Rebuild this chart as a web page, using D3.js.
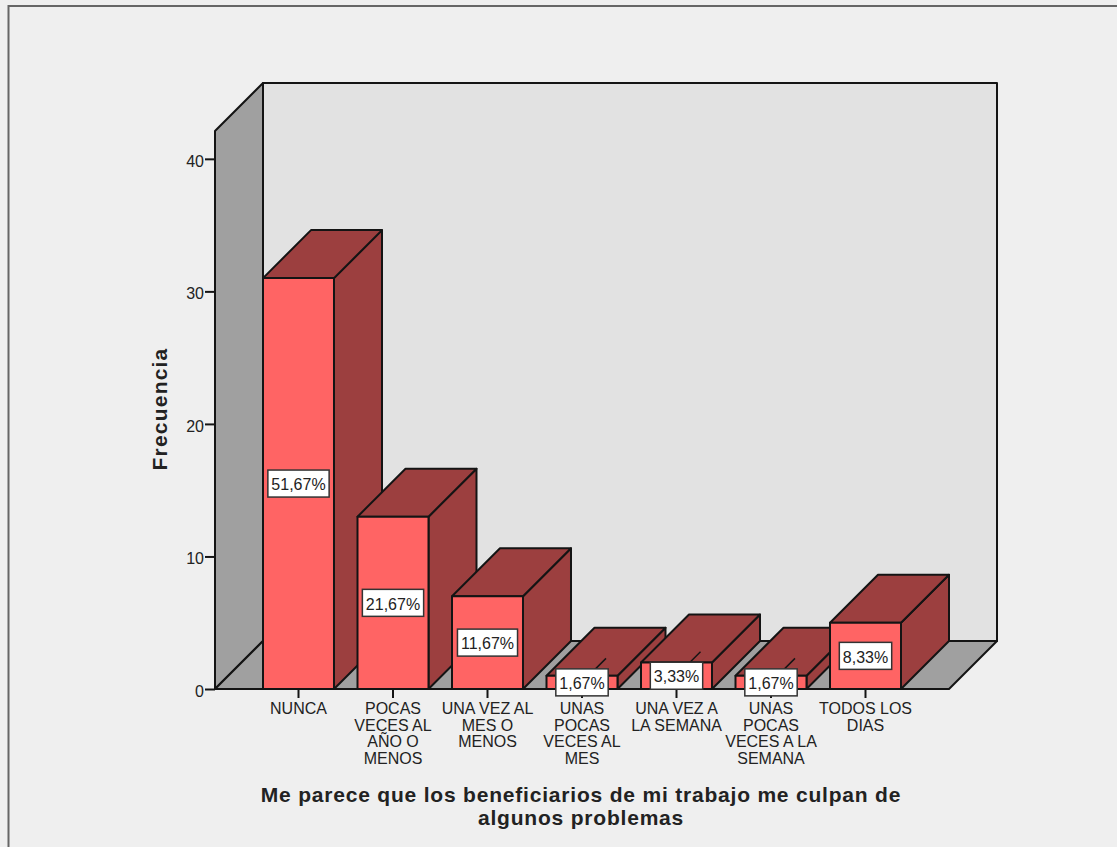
<!DOCTYPE html>
<html>
<head>
<meta charset="utf-8">
<script src="https://cdn.jsdelivr.net/npm/d3@7/dist/d3.min.js"></script>
<style>
  html, body { margin: 0; padding: 0; background: #efefef; overflow: hidden; }
  svg { display: block; }
  text { font-family: "Liberation Sans", Arial, sans-serif; fill: #222; }
</style>
</head>
<body>
<svg id="chart" width="1117" height="847"></svg>
<script>
// Response counts per category (n = 60)
const categories = [
  "NUNCA",
  "POCAS VECES AL AÑO O MENOS",
  "UNA VEZ AL MES O MENOS",
  "UNAS POCAS VECES AL MES",
  "UNA VEZ A LA SEMANA",
  "UNAS POCAS VECES A LA SEMANA",
  "TODOS LOS DIAS"
];
const categoryLines = [
  ["NUNCA"],
  ["POCAS", "VECES AL", "AÑO O", "MENOS"],
  ["UNA VEZ AL", "MES O", "MENOS"],
  ["UNAS", "POCAS", "VECES AL", "MES"],
  ["UNA VEZ A", "LA SEMANA"],
  ["UNAS", "POCAS", "VECES A LA", "SEMANA"],
  ["TODOS LOS", "DIAS"]
];
const frequencies = [31, 13, 7, 1, 2, 1, 5];
const yTicks = [0, 10, 20, 30, 40];
const yTitle = "Frecuencia";
const xTitleLines = [
  "Me parece que los beneficiarios de mi trabajo me culpan de",
  "algunos problemas"
];

const total = d3.sum(frequencies);
const percentLabel = v => (v / total * 100).toFixed(2).replace(".", ",") + "%";

const INK = "#141414";
const depth = 48;                 // oblique offset of the 3D box, in px
const baseY = 689, wallTopY = 131;
const wallX = 215, floorRight = 949;

const svg = d3.select("#chart");

const x = d3.scaleBand().domain(categories).range([263, 901]).paddingInner(0.2487);
const y = d3.scaleLinear().domain([0, 42.1]).range([baseY, wallTopY]);

const pts = a => a.map(p => p.join(",")).join(" ");
const poly = (g, points, fill) => g.append("polygon")
  .attr("points", pts(points))
  .attr("fill", fill)
  .attr("stroke", INK)
  .attr("stroke-width", 2)
  .attr("stroke-linejoin", "round");

// Outer frame of the chart window
svg.append("path").attr("d", "M8.5,847V6H1117")
  .attr("fill", "none").attr("stroke", "#666").attr("stroke-width", 2);

// Back wall, left wall and floor of the 3D box
const box = svg.append("g");
poly(box, [[wallX + depth, wallTopY - depth], [floorRight + depth, wallTopY - depth],
           [floorRight + depth, baseY - depth], [wallX + depth, baseY - depth]], "#e2e2e2");
poly(box, [[wallX, wallTopY], [wallX + depth, wallTopY - depth],
           [wallX + depth, baseY - depth], [wallX, baseY]], "#a0a0a0");
poly(box, [[wallX, baseY], [wallX + depth, baseY - depth],
           [floorRight + depth, baseY - depth], [floorRight, baseY]], "#a0a0a0");

// Bars, left to right so that each box overlaps the previous one
const bars = svg.append("g");
frequencies.forEach((v, i) => {
  const g = bars.append("g");
  const x0 = x(categories[i]), x1 = x0 + x.bandwidth();
  const yTop = y(v), yMid = (y(v) + y(0)) / 2;
  poly(g, [[x1, yTop], [x1 + depth, yTop - depth], [x1 + depth, baseY - depth], [x1, baseY]], "#9c3f3f");
  poly(g, [[x0, yTop], [x0 + depth, yTop - depth], [x1 + depth, yTop - depth], [x1, yTop]], "#9c3f3f");
  // Leader from the front face to the middle of the box; the front face hides its lower part
  const cx = (x0 + x1) / 2;
  g.append("line").attr("x1", cx).attr("y1", yMid)
    .attr("x2", cx + depth / 2).attr("y2", yMid - depth / 2)
    .attr("stroke", INK).attr("stroke-width", 1.5);
  poly(g, [[x0, yTop], [x1, yTop], [x1, baseY], [x0, baseY]], "#ff6464");
});

// Baseline along the front of the floor
svg.append("line").attr("x1", wallX).attr("x2", floorRight)
  .attr("y1", baseY).attr("y2", baseY).attr("stroke", INK).attr("stroke-width", 2);

// Value axis on the front edge of the left wall
const yAxis = svg.append("g").attr("transform", `translate(${wallX},0)`)
  .call(d3.axisLeft(y).tickValues(yTicks).tickFormat(d3.format("d")).tickSize(10).tickPadding(1));
yAxis.select(".domain").remove();
yAxis.selectAll("line").attr("stroke", INK).attr("stroke-width", 2);
yAxis.selectAll("text").style("font-size", "16px").attr("fill", "#222").attr("dy", "0.46em");

// Category axis with wrapped labels
const xAxis = svg.append("g").attr("transform", `translate(0,${baseY})`)
  .call(d3.axisBottom(x).tickSize(9).tickPadding(0));
xAxis.select(".domain").remove();
xAxis.selectAll("line").attr("stroke", INK).attr("stroke-width", 2);
xAxis.selectAll("text").each(function (d) {
  const t = d3.select(this).text(null).attr("y", 0).attr("dy", null)
    .style("font-size", "16px").attr("fill", "#222");
  categoryLines[categories.indexOf(d)].forEach((line, j) => {
    t.append("tspan").attr("x", 0).attr("y", 25 + j * 16.6).text(line);
  });
});

// Percentage labels at the centre of each front face
const labels = svg.append("g");
frequencies.forEach((v, i) => {
  const cx = x(categories[i]) + x.bandwidth() / 2;
  const cy = (y(v) + y(0)) / 2;
  const g = labels.append("g").attr("transform", `translate(${cx},${cy})`);
  const t = g.append("text").attr("text-anchor", "middle").attr("dy", "0.42em")
    .style("font-size", "16px").attr("fill", "#222").text(percentLabel(v));
  const w = t.node().getComputedTextLength() + 7, h = 27;
  g.insert("rect", "text").attr("x", -w / 2).attr("y", -h / 2).attr("width", w).attr("height", h)
    .attr("fill", "#fff").attr("stroke", "#333").attr("stroke-width", 1.5);
});

// Axis titles
svg.append("text").attr("transform", "translate(167,409) rotate(-90)")
  .attr("text-anchor", "middle")
  .style("font-size", "21px").style("font-weight", "bold").style("letter-spacing", "1.2px")
  .attr("fill", "#111").text(yTitle);

const xt = svg.append("text").attr("text-anchor", "middle")
  .style("font-size", "21px").style("font-weight", "bold").style("letter-spacing", "0.8px")
  .attr("fill", "#111");
xTitleLines.forEach((line, j) => {
  xt.append("tspan").attr("x", 581).attr("y", 802 + j * 23).text(line);
});
</script>
</body>
</html>
